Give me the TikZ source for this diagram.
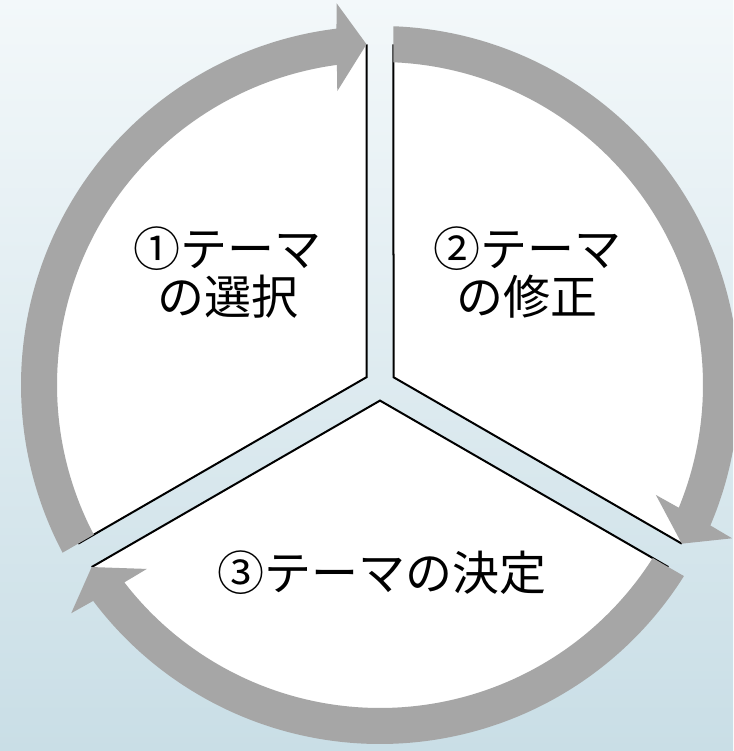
\documentclass[tikz,border=0pt]{standalone}
\usepackage{fontspec}
\newfontfamily\cjk{Noto Sans CJK JP}
\definecolor{bgtop}{HTML}{F3F8FA}
\definecolor{bgbot}{HTML}{C9DEE6}
\definecolor{ringgray}{HTML}{A6A6A6}
\begin{document}
\begin{tikzpicture}[x=1pt,y=1pt,
  txt/.style={font=\cjk\fontsize{47}{50}\selectfont, inner sep=0pt, anchor=base, text=black},
  edgeline/.style={draw=black, line width=2pt, line join=miter},
  sectorfill/.style={fill=white},
  ringfill/.style={fill=ringgray}]
\useasboundingbox (-380,-366) rectangle (353,385);
\clip (-380,-366) rectangle (353,385);
\shade[top color=bgtop, bottom color=bgbot] (-380,-366) rectangle (353,385);
% white sectors
\foreach \c in {150,30,270}{
  \path[sectorfill] (\c:15.59pt) -- ({\c-60+2.269}:341pt)
     arc[start angle={\c-60+2.269}, end angle={\c+60-2.269}, radius=341pt] -- cycle;
}
% black straight edges
\foreach \c in {150,30,270}{
  \draw[edgeline] ({\c-60+2.269}:341pt) -- (\c:15.59pt) -- ({\c+60-2.269}:341pt);
}
% gray circular arrows
\foreach \c in {150,30,270}{
  \path[ringfill] ({\c+60-2.155}:359pt)
     arc[start angle={\c+60-2.155}, end angle={\c-60+2.269+4.7}, radius=359pt]
     -- ({\c-60+2.269+4.2}:384pt) -- ({\c-60+2.269}:341pt) -- ({\c-60+2.269+6}:297pt)
     -- ({\c-60+2.269+5.4}:323pt)
     arc[start angle={\c-60+2.269+5.4}, end angle={\c+60-2.395}, radius=323pt] -- cycle;
}
% labels
\node[txt] (t1a) at (-152,118) {①テーマ};
\node[txt] (t1b) at (-152,70) {の選択};
\node[txt] (t2a) at (147,118) {②テーマ};
\node[txt] (t2b) at (147,70) {の修正};
\node[txt] (t3) at (2,-205) {③テーマの決定};
\end{tikzpicture}
\end{document}
